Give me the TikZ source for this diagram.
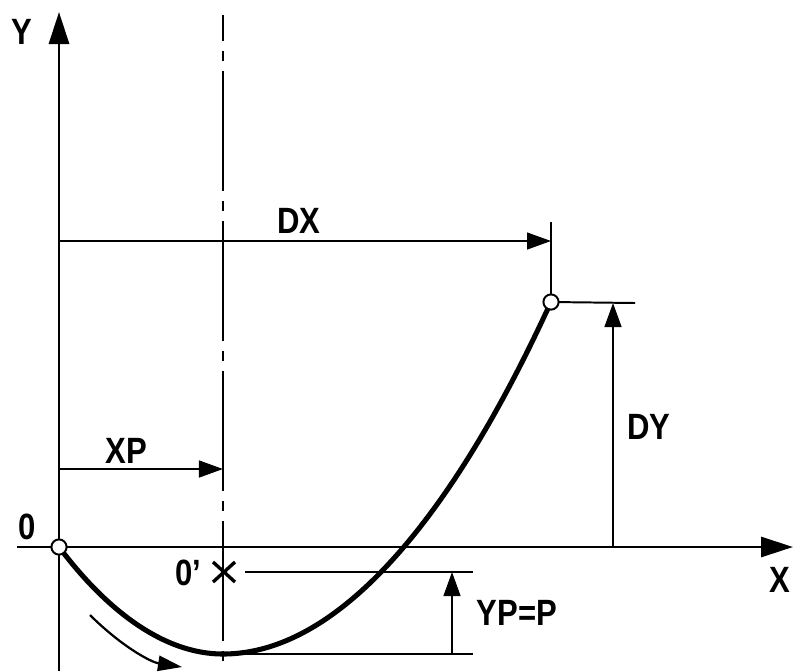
\documentclass[tikz,border=0pt]{standalone}
\usepackage{fontspec}
\newfontfamily\dinfont[FakeStretch=0.85]{Liberation Sans Bold}
\usetikzlibrary{arrows.meta, calc}

\begin{document}
\begin{tikzpicture}[
  x=0.025cm, y=-0.025cm,
  font=\dinfont\fontsize{26}{30}\selectfont,
  axis/.style={line width=2.1pt, -{Triangle[length=0.8cm, width=0.5cm]}},
  dim/.style={line width=1.4pt},
  dimar/.style={dim, -{Triangle[length=0.6cm, width=0.42cm]}},
  centre/.style={line width=1.8pt, dash pattern=on 3cm off 0.25cm on 0.25cm off 0.25cm,
                 dash phase=2.35cm},
  curve/.style={line width=3.6pt},
  pt/.style={circle, draw, fill=white, line width=1.4pt, minimum size=0.38cm, inner sep=0pt},
  motion/.style={line width=1.6pt, -{Triangle[length=0.6cm, width=0.38cm]}}
]
\useasboundingbox (0,0) rectangle (793,671);

% key points
\coordinate (O)   at (59,547);
\coordinate (V)   at (223,654);
\coordinate (P)   at (551,302);
\coordinate (Op)  at (224,572);

% axes
\coordinate (ybot) at (59,671);
\coordinate (ytop) at (59,12);
\coordinate (xl)   at (17,547);
\coordinate (xr)   at (793,547);
\draw[axis] (ybot) -- (ytop);
\draw[axis] (xl) -- (xr);
\node (ylab) at (22,32) {Y};
\node (xlab) at (780,580) {X};
\node (olab) at (27,527) {0};

% centre line through O'
\coordinate (ctop) at (223,15);
\coordinate (cbot) at (223,671);
\draw[centre] (ctop) -- (cbot);

% path
\draw[curve] (O) parabola bend (V) (P);

% DX
\coordinate (dxtick) at (551,222);
\coordinate (dxa) at (59,241);
\coordinate (dxb) at (551,241);
\draw[dim] (dxtick) -- (P);
\draw[dimar] (dxa) -- (dxb);
\node (dx) at (299,221) {DX};

% DY
\coordinate (dyend) at (635,303);
\coordinate (dya) at (613,547);
\coordinate (dyb) at (613,303);
\draw[dim] (P) -- (dyend);
\draw[dimar] (dya) -- (dyb);
\node (dy) at (649,427) {DY};

% XP
\coordinate (xpa) at (59,469);
\coordinate (xpb) at (223,469);
\draw[dimar] (xpa) -- (xpb);
\node (xp) at (126,451) {XP};

% O' and YP
\draw[line width=2.4pt] ($(Op)+(-11,-10)$) -- ($(Op)+(11,10)$)
                        ($(Op)+(-11,10)$) -- ($(Op)+(11,-10)$);
\node (oplab) at (188,573) {0’};
\coordinate (opl) at (245,572);
\coordinate (opr) at (473,572);
\coordinate (vr)  at (473,654);
\coordinate (ypa) at (452,654);
\coordinate (ypb) at (452,572);
\draw[dim] (opl) -- (opr);
\draw[dim] (V) -- (vr);
\draw[dimar] (ypa) -- (ypb);
\node (yp) at (517,613) {YP=P};

% direction of motion
\coordinate (m1) at (90,615);
\coordinate (m2) at (182,667);
\draw[motion] (m1) .. controls (120,645) and (150,662) .. (m2);

% points
\node[pt] (Opt) at (O) {};
\node[pt] (Ppt) at (P) {};
\end{tikzpicture}
\end{document}
